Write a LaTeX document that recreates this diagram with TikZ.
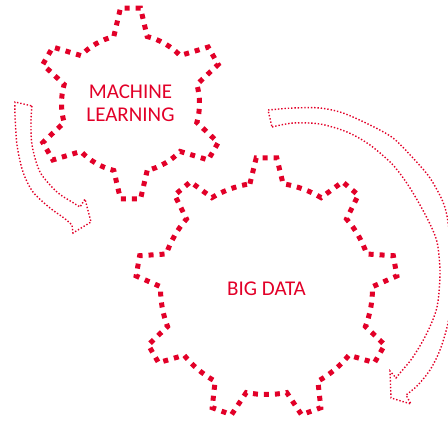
\documentclass[tikz,border=0pt]{standalone}
\usepackage{fontspec}
\setmainfont{Carlito}
\definecolor{gearred}{RGB}{226,0,40}

\begin{document}
\begin{tikzpicture}[x=1pt,y=-1pt,
	gear/.style={draw=gearred, line width=5pt, dash pattern=on 5pt off 6pt},
	flow/.style={draw=gearred, line width=1.4pt, dash pattern=on 1.4pt off 1.9pt},
	gtext/.style={text=gearred, align=center, font=\fontsize{21}{23.5}\selectfont}]

	\useasboundingbox (0,0) rectangle (448,425);

	\coordinate (ml_c) at (130.5,103.5);
	\coordinate (bd_c) at (266.5,288.5);

	\draw[gear, shift={(ml_c)}] (76:69)
		\foreach \a in {90,150,...,390} {
			-- (\a-6:96) -- (\a+6:96) -- (\a+14:69)
			arc[start angle=\a+14, end angle=\a+46, radius=69]
		} -- cycle;
	\draw[gear, shift={(bd_c)}] (-99:106)
		\foreach \a in {-90,-50,...,230} {
			-- (\a-4.5:131) -- (\a+4.5:131) -- (\a+9:106)
			arc[start angle=\a+9, end angle=\a+31, radius=106]
		} -- cycle;

	\node[gtext] (ml) at (ml_c) {MACHINE\\LEARNING};
	\node[gtext] (bd) at (bd_c) {BIG DATA};

	\draw[flow] plot[smooth] coordinates {(32,106) (31,120) (32,145) (40,172) (57,192) (72,202) (80,207)}
		-- (85,199) -- (91,222) -- (73,233)
		-- plot[smooth] coordinates {(72,225) (64,218) (50,208) (33,192) (23,172) (17,145) (15,115) (15,102)}
		-- cycle;
	\draw[flow] plot[smooth] coordinates {(272,127) (293,123) (320,124) (347,132) (370,145) (393,165) (410,188) (427,218) (437,242) (440,273) (437,307) (427,333) (413,357) (400,373) (396,378)}
		-- (390,371) -- (391,398) -- (411,404)
		-- plot[smooth] coordinates {(406,395) (417,386) (430,370) (440,350) (448,323) (451,295) (452,262) (448,222) (443,202) (430,178) (413,158) (393,138) (370,125) (343,113) (320,108) (293,108) (268,110)}
		-- cycle;
\end{tikzpicture}
\end{document}
